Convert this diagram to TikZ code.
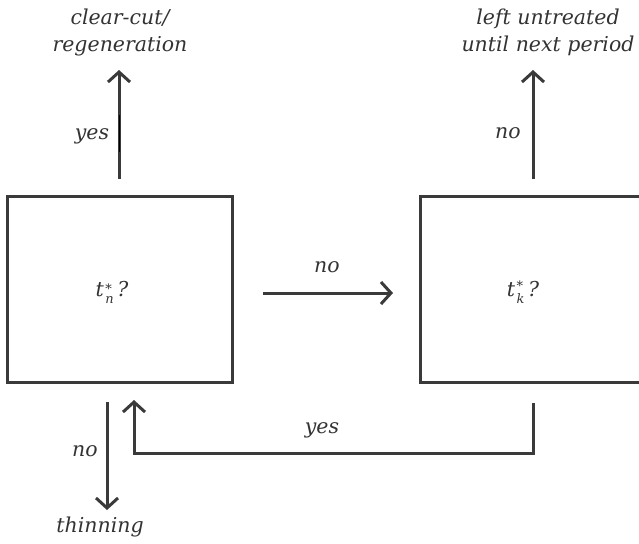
\documentclass[tikz,border=0pt]{standalone}
\usepackage{fontspec}
\setmainfont{DejaVu Serif}
\usetikzlibrary{arrows.meta}
\newcommand{\tstar}[1]{t\kern1.5pt\raisebox{-7pt}{\fontsize{13}{16}\selectfont\shortstack[l]{*\\#1}}\,?}
\begin{document}
\begin{tikzpicture}[x=1pt,y=-1pt,
  box/.style={draw=boxgray,line width=3pt},
  conn/.style={draw=boxgray,line width=3pt,-{Straight Barb[length=10pt,width=22pt,line width=3pt]}},
  lbl/.style={font=\fontsize{20.5}{27}\selectfont\itshape,text=txtgray,inner sep=0pt,align=center}]
\definecolor{boxgray}{HTML}{3A3A3A}
\definecolor{txtgray}{HTML}{333333}
\useasboundingbox (0,0) rectangle (639,543);
\clip (0,0) rectangle (639,543);
% boxes
\node[box,minimum width=225pt,minimum height=186pt,inner sep=0pt] (bn) at (120,289) {};
\node[box,minimum width=240pt,minimum height=186pt,inner sep=0pt,anchor=west] (bk) at (419,289) {};
\node[lbl] (tn) at (112,292) {\tstar{n}};
\node[lbl] (tk) at (523,292) {\tstar{k}};
% outcomes
\node[lbl] (cc) at (120,32) {clear-cut/\\regeneration};
\node[lbl] (lu) at (548,32) {left untreated\\until next period};
\node[lbl] (th) at (100,527) {thinning};
% connector anchors
\coordinate (a1) at (119,179);
\coordinate (a1e) at (119,70);
\coordinate (a2) at (533,179);
\coordinate (a2e) at (533,70);
\coordinate (h1) at (263,293);
\coordinate (h1e) at (393,293);
\coordinate (d1) at (107,402);
\coordinate (d1e) at (107,510);
\coordinate (r1) at (533,403);
\coordinate (r2) at (533,453);
\coordinate (r3) at (134,453);
\coordinate (r4) at (134,400);
\draw[conn] (a1) -- (a1e);
\draw[draw=black,line width=1.6pt] (119.5,115) -- (119.5,152);
\draw[conn] (a2) -- (a2e);
\draw[conn] (h1) -- (h1e);
\draw[conn] (d1) -- (d1e);
\draw[conn] (r1) -- (r2) -- (r3) -- (r4);
% labels
\node[lbl] (y1) at (92,136) {yes};
\node[lbl] (n1) at (508,133) {no};
\node[lbl] (n2) at (327,267) {no};
\node[lbl] (n3) at (85,451) {no};
\node[lbl] (y2) at (322,430) {yes};
\end{tikzpicture}
\end{document}
